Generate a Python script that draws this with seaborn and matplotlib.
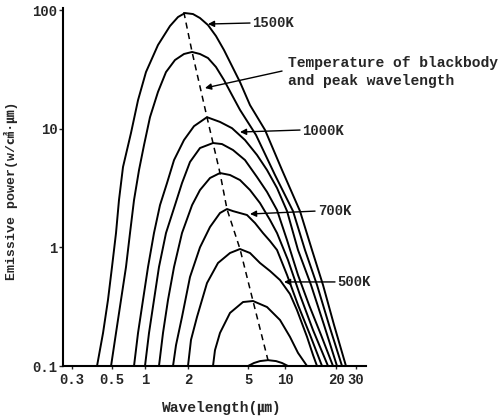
import numpy as np
import pandas as pd
import matplotlib
matplotlib.use("Agg")
import matplotlib.pyplot as plt
import seaborn as sns

# Blackbody curves: wavelength (um) vs emissive power
temps = ["1500K", "1300K", "1000K", "900K", "800K", "700K", "600K", "500K", "400K"]

wl_1500 = [0.413, 0.446, 0.475, 0.50, 0.544, 0.579, 0.630, 0.745, 0.864, 1.016, 1.233, 1.496, 1.703, 1.905,
           2.158, 2.402, 2.714, 3.066, 3.465, 3.916, 4.425, 5.19, 6.88, 9.46, 12.26, 14.43, 16.76, 19.47, 24.48]
pw_1500 = [0.1, 0.19, 0.36, 0.683, 1.32, 2.5, 4.75, 9.19, 17.4, 30.0, 50.7, 73.3, 87.3, 94.3,
           92.5, 85.6, 74.7, 60.4, 46.0, 33.7, 24.7, 15.8, 9.74, 4.48, 2.02, 0.95, 0.482, 0.222, 0.1]

wl_1300 = [0.494, 0.544, 0.604, 0.671, 0.730, 0.794, 0.882, 0.980, 1.084, 1.233, 1.403, 1.622, 1.875, 2.129,
           2.402, 2.714, 3.066, 3.465, 3.916, 4.425, 5.81, 8.29, 11.15, 13.12, 15.45, 18.19, 22.59]
pw_1300 = [0.1, 0.19, 0.36, 0.683, 1.32, 2.5, 4.48, 7.28, 12.5, 20.4, 30.0, 37.9, 42.6, 44.3,
           42.6, 39.4, 33.1, 25.7, 19.2, 14.4, 8.84, 4.07, 2.02, 0.95, 0.482, 0.222, 0.1]

wl_1000 = [0.794, 0.864, 0.959, 1.050, 1.156, 1.274, 1.426, 1.597, 1.875, 2.192, 2.673,
           3.26, 3.916, 4.775, 5.92, 7.14, 8.61, 10.28, 11.93, 14.24, 16.99, 20.41]
pw_1000 = [0.1, 0.19, 0.36, 0.683, 1.32, 2.27, 3.48, 5.44, 8.02, 10.5, 12.5,
           11.4, 10.1, 8.02, 6.0, 4.48, 3.16, 2.02, 0.95, 0.482, 0.222, 0.1]

wl_900 = [1.0, 1.067, 1.156, 1.253, 1.403, 1.622, 1.816, 2.062, 2.402, 2.93,
          3.361, 3.976, 4.775, 5.92, 7.14, 8.61, 10.28, 11.93, 13.86, 16.31, 19.2]
pw_900 = [0.1, 0.19, 0.36, 0.683, 1.32, 2.27, 3.48, 5.24, 6.87, 7.57,
          7.42, 6.61, 5.44, 3.91, 2.93, 2.06, 1.15, 0.585, 0.327, 0.183, 0.1]

wl_800 = [1.253, 1.337, 1.449, 1.597, 1.816, 2.129, 2.402, 2.799, 3.26,
          3.798, 4.425, 5.19, 6.26, 7.55, 8.61, 10.41, 12.26, 14.63, 17.94]
pw_800 = [0.1, 0.19, 0.36, 0.683, 1.32, 2.27, 3.04, 3.84, 4.23,
          4.07, 3.69, 3.04, 2.36, 1.70, 1.32, 0.782, 0.396, 0.201, 0.1]

wl_700 = [1.571, 1.649, 1.816, 2.062, 2.402, 2.799, 3.26, 3.627,
          3.976, 4.923, 5.70, 6.62, 7.55, 8.61, 10.28, 11.93, 14.05, 16.54]
pw_700 = [0.1, 0.15, 0.259, 0.562, 1.0, 1.484, 1.947, 2.104,
          2.02, 1.873, 1.603, 1.32, 1.13, 0.95, 0.585, 0.327, 0.183, 0.1]

wl_600 = [2.0, 2.094, 2.295, 2.673, 3.162, 3.798, 4.425,
          5.19, 6.26, 7.55, 9.11, 10.70, 11.77, 13.49, 14.63, 15.45]
pw_600 = [0.1, 0.166, 0.259, 0.5, 0.738, 0.896, 0.968,
          0.896, 0.738, 0.632, 0.53, 0.404, 0.296, 0.176, 0.124, 0.1]

wl_500 = [2.93, 3.02, 3.26, 3.798, 4.633, 5.49, 7.14, 9.11, 10.70, 11.93, 13.49]
pw_500 = [0.1, 0.136, 0.19, 0.28, 0.346, 0.353, 0.314, 0.244, 0.176, 0.129, 0.1]

wl_400 = [5.0, 5.59, 6.26, 7.27, 8.45, 9.46, 10.41]
pw_400 = [0.1, 0.106, 0.110, 0.112, 0.110, 0.106, 0.1]

# dashed locus through the peaks
peak_wl = [1.87, 2.129, 2.673, 2.93, 3.26, 3.627, 4.425, 5.49, 7.27, 7.27]
peak_pw = [96.0, 44.3, 12.5, 7.57, 4.23, 2.10, 0.968, 0.353, 0.112, 0.1]

x_ticks = [0.3, 0.5, 1, 2, 5, 10, 20, 30]
x_labels = ["0.3", "0.5", "1", "2", "5", "10", "20", "30"]
y_ticks = [0.1, 1, 10, 100]
y_labels = ["0.1", "1", "10", "100"]

curves = [(wl_1500, pw_1500), (wl_1300, pw_1300), (wl_1000, pw_1000), (wl_900, pw_900),
          (wl_800, pw_800), (wl_700, pw_700), (wl_600, pw_600), (wl_500, pw_500), (wl_400, pw_400)]
df = pd.concat([pd.DataFrame({"wl": w, "pw": p, "T": t}) for t, (w, p) in zip(temps, curves)],
               ignore_index=True)

# the hand drawn wavelength axis is not evenly logarithmic:
# where each value sits along the axis (fraction of its width)
scale_vals = [0.1, 0.267, 0.3, 0.5, 1, 2, 5, 10, 20, 30, 36.7, 100]
scale_frac = [-0.254, 0.0, 0.0297, 0.1617, 0.2706, 0.4125, 0.6106, 0.7327, 0.9010, 0.9670, 1.0, 1.163]
log_vals = np.log10(scale_vals)


def fwd(x):
    x = np.clip(np.asarray(x, dtype=float), 1e-3, None)
    return np.interp(np.log10(x), log_vals, scale_frac)


def inv(f):
    return 10 ** np.interp(np.asarray(f, dtype=float), scale_frac, log_vals)


sns.set_style("ticks")
plt.rcParams["font.family"] = ["Liberation Mono", "Noto Sans CJK JP", "DejaVu Sans"]
plt.rcParams["font.weight"] = "bold"

fig = plt.figure(figsize=(5.01, 4.16), dpi=100)
ax = fig.add_axes([63 / 501, 50 / 416, 303 / 501, 358 / 416])

sns.lineplot(data=df, x="wl", y="pw", hue="T", hue_order=temps, palette=["black"] * 9,
             sort=False, estimator=None, legend=False, lw=1.4, ax=ax)
ax.plot(peak_wl, peak_pw, color="black", lw=1.1, dashes=(4, 3))

ax.set_xscale("function", functions=(fwd, inv))
ax.set_yscale("log")
ax.set_xlim(0.267, 36.7)
ax.set_ylim(0.1, 104)

ax.set_xticks(x_ticks)
ax.set_xticklabels(x_labels)
ax.set_yticks(y_ticks)
ax.set_yticklabels(y_labels)
ax.minorticks_off()
ax.tick_params(axis="x", length=2, width=1, pad=3, labelsize=10)
ax.tick_params(axis="y", length=3, width=1, pad=1, labelsize=10)

sns.despine(ax=ax)
for s in ["left", "bottom"]:
    ax.spines[s].set_linewidth(1.5)
    ax.spines[s].set_color("black")

ax.set_xlabel("Wavelength(㎛)", fontsize=10.5, fontweight="bold")
ax.set_ylabel("Emissive power(w/㎠·㎛)", fontsize=9.5, fontweight="bold")
ax.xaxis.set_label_coords(0.525, -0.098)
ax.yaxis.set_label_coords(-0.15, 0.49)

arrow = dict(arrowstyle="-|>", color="black", lw=1.0, shrinkA=0, shrinkB=0, mutation_scale=9)
ax.annotate("", xy=(2.714, 76.2), xytext=(5.19, 77.7), arrowprops=arrow)
ax.text(5.38, 77.7, "1500K", ha="left", va="center", fontsize=10)

ax.annotate("", xy=(2.592, 22.0), xytext=(9.46, 30.6), arrowprops=arrow)
ax.text(10.41, 30.0, "Temperature of blackbody\nand peak wavelength", ha="left", va="center",
        fontsize=10.5, linespacing=1.4)

ax.annotate("", xy=(4.425, 9.37), xytext=(12.26, 9.74), arrowprops=arrow)
ax.text(12.6, 9.56, "1000K", ha="left", va="center", fontsize=10)

ax.annotate("", xy=(5.19, 1.91), xytext=(15.04, 2.02), arrowprops=arrow)
ax.text(15.66, 2.02, "700K", ha="left", va="center", fontsize=10)

ax.annotate("", xy=(9.82, 0.511), xytext=(19.73, 0.511), arrowprops=arrow)
ax.text(20.4, 0.511, "500K", ha="left", va="center", fontsize=10)

fig.savefig("out.png", dpi=100)
